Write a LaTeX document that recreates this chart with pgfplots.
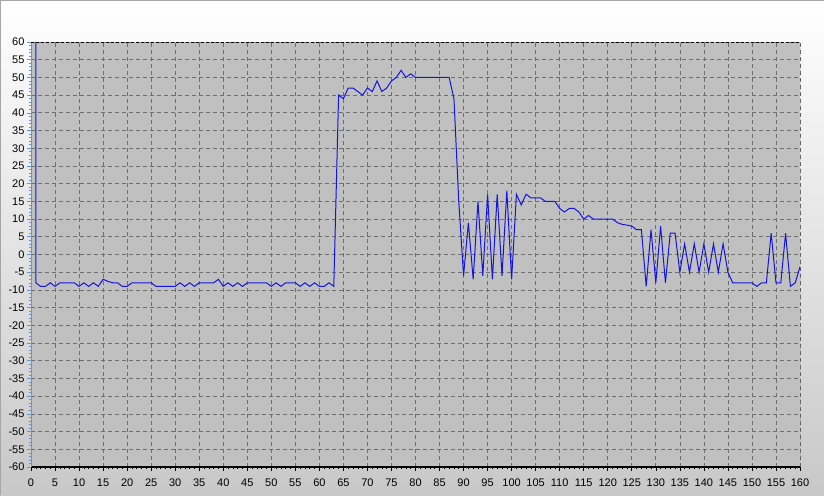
\documentclass[border=0pt]{standalone}
\usepackage{pgfplots}
\pgfplotsset{compat=1.18}
\usepackage{fontspec}
\setmainfont{Liberation Sans}
\definecolor{plotbg}{RGB}{192,192,192}
\definecolor{gridc}{RGB}{110,110,110}
\definecolor{linec}{RGB}{20,20,225}
\definecolor{yaxc}{RGB}{100,150,215}
\definecolor{outbot}{RGB}{200,200,200}
\begin{document}
\begin{tikzpicture}[x=1pt,y=1pt]
\useasboundingbox (0,0) rectangle (824,495);
\shade[top color=white, bottom color=outbot] (0,0) rectangle (824,495);
\draw[gray!70, line width=1pt] (0.5,0) -- (0.5,494.5) -- (824,494.5);
\begin{axis}[
  at={(31pt,28pt)}, anchor=south west,
  width=769pt, height=425pt, scale only axis,
  xmin=0, xmax=160, ymin=-60, ymax=60,
  xtick={0,5,...,160}, ytick={-60,-55,...,60},
  minor x tick num=4, minor y tick num=4,
  axis lines=left,
  axis line style={-},
  x axis line style={black, line width=2.4pt},
  y axis line style={yaxc, line width=0.8pt},
  xtick style={black, line width=0.6pt},
  ytick style={yaxc, line width=0.6pt},
  tick align=outside,
  major tick length=4pt, minor tick length=2.5pt,
  grid=major,
  major grid style={gridc, line width=0.7pt, dash pattern=on 4pt off 3pt},
  minor grid style={draw=none},
  axis background/.style={fill=plotbg},
  /pgf/number format/assume math mode=true,
  ticklabel style={font=\fontsize{11}{13}\selectfont, text=black},
  yticklabel style={xshift=1pt},
  xticklabel style={yshift=-4pt},
  clip=true,
]
\addplot[linec, line width=1pt, mark=none] coordinates {
(1,60)(1,-8)(2,-9)(3,-9)(4,-8)(5,-9)(6,-8)(7,-8)(8,-8)(9,-8)(10,-9)
(11,-8)(12,-9)(13,-8)(14,-9)(15,-7)(16,-7.6)(17,-8)(18,-8)(19,-9)(20,-9)
(21,-8)(22,-8)(23,-8)(24,-8)(25,-8)(26,-9)(27,-9)(28,-9)(29,-9)(30,-9)
(31,-8)(32,-9)(33,-8)(34,-9)(35,-8)(36,-8)(37,-8)(38,-8)(39,-7)(40,-9)
(41,-8)(42,-9)(43,-8)(44,-9)(45,-8)(46,-8)(47,-8)(48,-8)(49,-8)(50,-9)
(51,-8)(52,-9)(53,-8)(54,-8)(55,-8)(56,-9)(57,-8)(58,-9)(59,-8)(60,-9)
(61,-9)(62,-8)(63,-9)(64,45)(65,44)(66,47)(67,47)(68,46)(69,45)(70,47)
(71,46)(72,49)(73,46)(74,47)(75,49)(76,50)(77,52)(78,50)(79,51)(80,50)
(81,50)(82,50)(83,50)(84,50)(85,50)(86,50)(87,50)(88,44)(89,15)(90,-6)
(91,9)(92,-7)(93,15)(94,-6)(95,17)(96,-7)(97,17)(98,-6)(99,18)(100,-7)
(101,17)(102,14)(103,17)(104,16)(105,16)(106,16)(107,15)(108,15)(109,15)(110,13)
(111,12)(112,13)(113,13)(114,12)(115,10)(116,11)(117,10)(118,10)(119,10)(120,10)
(121,10)(122,9)(123,8.5)(124,8.3)(125,8)(126,7)(127,7)(128,-9)(129,7)(130,-8)
(131,8)(132,-8)(133,6)(134,6)(135,-5)(136,3)(137,-5)(138,3)(139,-5)(140,3)
(141,-5)(142,3)(143,-5)(144,3)(145,-5)(146,-8)(147,-8)(148,-8)(149,-8)(150,-8)
(151,-9)(152,-8)(153,-8)(154,6)(155,-8)(156,-8)(157,6)(158,-9)(159,-8)(160,-3.5)
};
\draw[black, line width=0.8pt, dash pattern=on 3pt off 2pt] (rel axis cs:0,1) -- (rel axis cs:1,1) -- (rel axis cs:1,0);
\end{axis}
\end{tikzpicture}
\end{document}
